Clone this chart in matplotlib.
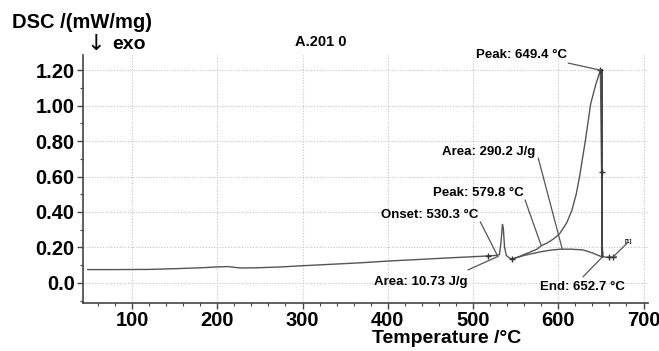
import numpy as np
import matplotlib.pyplot as plt
from matplotlib.ticker import MultipleLocator

# DSC curve (temperature in °C, signal in mW/mg)
temp = [48, 80, 120, 150, 180, 200, 212, 227, 245, 275, 297, 330, 367, 400, 440,
        480, 510, 518, 528, 531, 533, 534.5, 535.5, 537, 539, 543, 546, 555, 565,
        575, 580, 587, 595, 602, 610, 616, 621, 625, 632, 638, 644, 649.4, 650.8,
        651.6, 652.7, 660, 664, 668]
dsc = [0.075, 0.075, 0.076, 0.080, 0.085, 0.090, 0.092, 0.084, 0.085, 0.090, 0.096,
       0.104, 0.113, 0.123, 0.133, 0.143, 0.150, 0.153, 0.155, 0.160, 0.24, 0.33,
       0.31, 0.20, 0.155, 0.140, 0.135, 0.150, 0.170, 0.190, 0.210, 0.225, 0.250,
       0.280, 0.340, 0.410, 0.500, 0.600, 0.810, 1.010, 1.120, 1.200, 0.625, 0.200,
       0.146, 0.145, 0.145, 0.146]

# integration baseline under the large peak
base_temp = [546, 560, 578, 590, 602, 615, 629, 640, 647, 651.6]
base_dsc = [0.135, 0.155, 0.174, 0.184, 0.190, 0.190, 0.186, 0.169, 0.155, 0.146]

# temperatures where the software put '+' marks
mark_temp = [518, 546, 649.4, 650.8, 660, 664]

x_ticks = [100, 200, 300, 400, 500, 600, 700]
y_ticks = [0.0, 0.2, 0.4, 0.6, 0.8, 1.0, 1.2]
y_labels = ['0.0', '0.20', '0.40', '0.60', '0.80', '1.00', '1.20']

line_col = '#555555'
fnt = ['Liberation Sans', 'DejaVu Sans']
plt.rcParams['font.family'] = fnt

fig = plt.figure(figsize=(6.59, 3.51), dpi=100)
ax = fig.add_axes([0.126, 0.137, 0.857, 0.706])

ax.plot(temp, dsc, color=line_col, lw=1.0)
ax.plot(base_temp, base_dsc, color=line_col, lw=1.0)
# thick vertical drop after the main peak
ax.plot([651.6, 651.6], [1.20, 0.146], color='#444444', lw=1.4)
mark_dsc = [dsc[temp.index(t)] for t in mark_temp]
ax.plot(mark_temp, mark_dsc, linestyle='none', marker='+', color='#333333',
        markersize=5, mew=1.0)

ax.set_xlim(42.5, 705)
ax.set_ylim(-0.113, 1.285)
ax.set_xticks(x_ticks)
ax.set_yticks(y_ticks)
ax.set_yticklabels(y_labels)
ax.xaxis.set_minor_locator(MultipleLocator(20))
ax.yaxis.set_minor_locator(MultipleLocator(0.1))
ax.tick_params(axis='both', which='major', labelsize=14.5, length=4, width=1,
               color='#444444', pad=2)
ax.tick_params(axis='both', which='minor', length=2.5, width=0.8, color='#444444')
for lab in ax.get_xticklabels() + ax.get_yticklabels():
    lab.set_fontweight('bold')
ax.spines['top'].set_visible(False)
ax.spines['right'].set_visible(False)
ax.spines['left'].set_color('#444444')
ax.spines['bottom'].set_color('#444444')
ax.spines['left'].set_linewidth(1.2)
ax.spines['bottom'].set_linewidth(1.2)
ax.grid(True, linestyle=(0, (1, 1.5)), color='#c4c4c4', lw=0.8)

ax.set_xlabel('Temperature /°C', fontsize=14, fontweight='bold')
ax.xaxis.set_label_coords(0.644, -0.11)

fig.text(0.018, 0.937, 'DSC /(mW/mg)', fontsize=14.5, fontweight='bold',
         va='center', ha='left')
fig.text(0.131, 0.874, '↓', fontsize=16, va='center', ha='left',
         family='DejaVu Sans')
fig.text(0.170, 0.872, 'exo', fontsize=14, fontweight='bold', va='center',
         ha='left')
fig.text(0.487, 0.88, 'A.201 0', fontsize=10.5, fontweight='bold', va='center',
         ha='center')

lk = dict(arrowstyle='-', color=line_col, lw=0.9, shrinkA=0, shrinkB=0)


def note(txt, tx, ty, x0, y0, x1, y1, size=9.5):
    ax.text(tx, ty, txt, fontsize=size, fontweight='bold', va='center',
            ha='right', clip_on=False)
    ax.annotate('', xy=(x1, y1), xytext=(x0, y0), arrowprops=lk,
                annotation_clip=False)


note('Peak: 649.4 °C', 610.5, 1.285, 611.7, 1.24, 649.4, 1.20)
note('Area: 290.2 J/g', 573, 0.738, 576.5, 0.704, 604.7, 0.19)
note('Peak: 579.8 °C', 559, 0.507, 561, 0.468, 580, 0.21)
note('Onset: 530.3 °C', 506, 0.383, 508.5, 0.344, 528.4, 0.156)
note('Area: 10.73 J/g', 493, 0.006, 494, 0.073, 529.6, 0.150)
note('End: 652.7 °C', 678.6, -0.023, 629, 0.034, 651.6, 0.146)
note('[1]', 687, 0.232, 664, 0.145, 681, 0.225, size=4.5)

fig.savefig('out.png', dpi=100)
